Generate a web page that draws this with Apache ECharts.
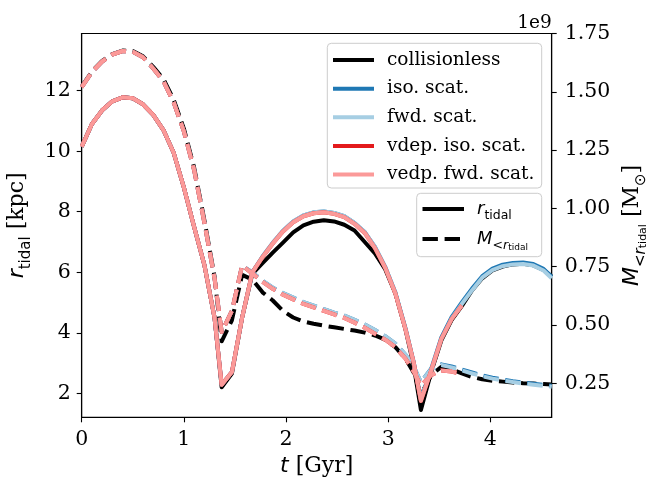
<!DOCTYPE html>
<html>
<head>
<meta charset="utf-8">
<script src="https://cdn.jsdelivr.net/npm/echarts@6/dist/echarts.min.js"></script>
<style>
  html, body { margin: 0; padding: 0; background: #ffffff; }
  #chart { width: 654px; height: 477px; }
</style>
</head>
<body>
<div id="chart"></div>
<script>
// Snapshot times [Gyr]
const T = [0, 0.1, 0.2, 0.3, 0.4, 0.5, 0.6, 0.7, 0.8, 0.9, 1.0, 1.1, 1.2, 1.3, 1.37, 1.47, 1.57, 1.67,
  1.77, 1.87, 1.97, 2.07, 2.17, 2.27, 2.37, 2.47, 2.57, 2.67, 2.77, 2.87, 2.97, 3.07, 3.17, 3.25,
  3.32, 3.42, 3.52, 3.62, 3.72, 3.82, 3.92, 4.02, 4.12, 4.22, 4.32, 4.42, 4.52, 4.6];

// Tidal radius [kpc]
const rCollisionless = [10.15, 10.9, 11.35, 11.65, 11.78, 11.75, 11.55, 11.2, 10.7, 9.95, 8.8, 7.5, 6.25, 4.5, 2.2, 2.65, 4.5, 5.95,
  6.3, 6.65, 6.98, 7.32, 7.55, 7.67, 7.72, 7.68, 7.57, 7.38, 7.0, 6.62, 6.1, 5.3, 4.1, 2.9,
  1.45, 2.7, 3.75, 4.42, 4.88, 5.4, 5.8, 6.06, 6.19, 6.26, 6.28, 6.23, 6.08, 5.86];
const rIso = [10.15, 10.9, 11.35, 11.65, 11.78, 11.75, 11.55, 11.2, 10.7, 9.95, 8.8, 7.5, 6.25, 4.5, 2.28, 2.7, 4.5, 6.0,
  6.52, 6.97, 7.37, 7.68, 7.88, 7.98, 8.01, 7.96, 7.85, 7.63, 7.33, 6.84, 6.18, 5.33, 4.13, 3.02,
  1.8, 2.8, 3.85, 4.52, 5.0, 5.46, 5.87, 6.12, 6.25, 6.31, 6.32, 6.27, 6.11, 5.85];
const rFwd = [10.15, 10.9, 11.35, 11.65, 11.78, 11.75, 11.55, 11.2, 10.7, 9.95, 8.8, 7.5, 6.25, 4.5, 2.28, 2.7, 4.5, 6.0,
  6.52, 6.97, 7.37, 7.68, 7.88, 7.98, 8.01, 7.96, 7.85, 7.63, 7.33, 6.84, 6.18, 5.33, 4.13, 3.02,
  1.8, 2.77, 3.8, 4.47, 4.95, 5.4, 5.82, 6.07, 6.2, 6.26, 6.27, 6.22, 6.06, 5.8];
const rVdepIso = [10.15, 10.9, 11.35, 11.65, 11.78, 11.75, 11.55, 11.2, 10.7, 9.95, 8.8, 7.5, 6.25, 4.5, 2.28, 2.7, 4.5, 6.0,
  6.5, 6.95, 7.35, 7.65, 7.85, 7.95, 7.98, 7.93, 7.82, 7.6, 7.3, 6.8, 6.15, 5.3, 4.1, 3.0,
  1.75, 2.75, 3.8, 4.45, 4.9];
const rVdepFwd = [10.15, 10.9, 11.35, 11.65, 11.78, 11.75, 11.55, 11.2, 10.7, 9.95, 8.8, 7.5, 6.25, 4.5, 2.28, 2.7, 4.5, 6.0,
  6.5, 6.95, 7.35, 7.65, 7.85, 7.95, 7.98, 7.93, 7.82, 7.6, 7.3, 6.8, 6.15, 5.3, 4.1, 3.0,
  1.75, 2.75, 3.8, 4.45, 4.9];

// Enclosed mass within the tidal radius [1e9 Msun]
const mCollisionless = [1.522, 1.587, 1.632, 1.662, 1.677, 1.675, 1.652, 1.607, 1.555, 1.466, 1.342, 1.176, 0.951, 0.708, 0.43, 0.52, 0.715, 0.695,
  0.64, 0.605, 0.56, 0.532, 0.515, 0.505, 0.497, 0.49, 0.483, 0.476, 0.467, 0.455, 0.437, 0.405, 0.355, 0.295,
  0.2, 0.285, 0.32, 0.31, 0.292, 0.277, 0.267, 0.261, 0.257, 0.253, 0.25, 0.249, 0.247, 0.245];
const mIso = [1.52, 1.585, 1.63, 1.66, 1.675, 1.672, 1.648, 1.6, 1.545, 1.455, 1.33, 1.165, 0.94, 0.7, 0.47, 0.56, 0.755, 0.725,
  0.69, 0.66, 0.637, 0.617, 0.598, 0.583, 0.568, 0.553, 0.54, 0.522, 0.502, 0.478, 0.452, 0.42, 0.372, 0.32,
  0.255, 0.312, 0.331, 0.322, 0.309, 0.296, 0.284, 0.274, 0.266, 0.259, 0.253, 0.248, 0.243, 0.239];
const mFwd = [1.52, 1.585, 1.63, 1.66, 1.675, 1.672, 1.648, 1.6, 1.545, 1.455, 1.33, 1.165, 0.94, 0.7, 0.47, 0.56, 0.755, 0.725,
  0.69, 0.66, 0.637, 0.617, 0.598, 0.583, 0.568, 0.553, 0.54, 0.522, 0.502, 0.478, 0.452, 0.42, 0.372, 0.32,
  0.255, 0.31, 0.328, 0.318, 0.305, 0.292, 0.28, 0.27, 0.262, 0.255, 0.249, 0.244, 0.239, 0.235];
const mVdepIso = [1.52, 1.585, 1.63, 1.66, 1.675, 1.672, 1.648, 1.6, 1.545, 1.455, 1.33, 1.165, 0.94, 0.7, 0.47, 0.56, 0.755, 0.72,
  0.685, 0.655, 0.63, 0.61, 0.59, 0.575, 0.56, 0.545, 0.53, 0.51, 0.488, 0.462, 0.437, 0.405, 0.355, 0.3,
  0.24, 0.285, 0.305, 0.3, 0.29];
const mVdepFwd = [1.52, 1.585, 1.63, 1.66, 1.675, 1.672, 1.648, 1.6, 1.545, 1.455, 1.33, 1.165, 0.94, 0.7, 0.47, 0.56, 0.755, 0.72,
  0.685, 0.655, 0.63, 0.61, 0.59, 0.575, 0.56, 0.545, 0.53, 0.51, 0.488, 0.462, 0.437, 0.405, 0.355, 0.3,
  0.24, 0.285, 0.305, 0.3, 0.29];

// Axis ticks
const tTicks = [0, 1, 2, 3, 4];
const rTicks = [2, 4, 6, 8, 10, 12];
const mTicks = [0.25, 0.5, 0.75, 1.0, 1.25, 1.5, 1.75];

const runNames = ['collisionless', 'iso. scat.', 'fwd. scat.', 'vdep. iso. scat.', 'vedp. fwd. scat.'];
const runColors = ['#000000', '#1f78b4', '#a6cee3', '#e31a1c', '#fb9a99'];
const runR = [rCollisionless, rIso, rFwd, rVdepIso, rVdepFwd];
const runM = [mCollisionless, mIso, mFwd, mVdepIso, mVdepFwd];

const SERIF = "'DejaVu Serif', serif";
const SANS = "'DejaVu Sans', sans-serif";
const LW = 4;
const DASH = [15.4, 6.7];

const pairs = vals => vals.map((v, i) => [T[i], v]);

const series = [];
runNames.forEach((name, k) => {
  series.push({
    name: name, type: 'line', yAxisIndex: 0, data: pairs(runR[k]),
    symbol: 'none', animation: false, silent: true,
    itemStyle: { color: runColors[k] },
    lineStyle: { color: runColors[k], width: LW, type: 'solid', cap: 'butt', join: 'round' }
  });
  series.push({
    name: name, type: 'line', yAxisIndex: 1, data: pairs(runM[k]),
    symbol: 'none', animation: false, silent: true,
    itemStyle: { color: runColors[k] },
    lineStyle: { color: runColors[k], width: LW, type: DASH, cap: 'butt', join: 'round' }
  });
});

const tickFont = { fontFamily: SERIF, fontSize: 20.5, color: '#000' };
const axisLine = { show: true, lineStyle: { color: '#000', width: 1.1 } };
const tickStyle = { color: '#000', width: 1.1 };

const nameRich = {
  i: { fontFamily: SANS, fontStyle: 'italic', fontSize: 22, lineHeight: 32, color: '#000' },
  n: { fontFamily: SERIF, fontSize: 22, lineHeight: 32, color: '#000' },
  s: { fontFamily: SANS, fontSize: 15, lineHeight: 18, verticalAlign: 'bottom', color: '#000' },
  si: { fontFamily: SANS, fontStyle: 'italic', fontSize: 15, lineHeight: 18, verticalAlign: 'bottom', color: '#000' },
  ss: { fontFamily: SANS, fontSize: 11, lineHeight: 9, verticalAlign: 'bottom', color: '#000' }
};

const legRich = {
  i: { fontFamily: SANS, fontStyle: 'italic', fontSize: 18, lineHeight: 26, color: '#000' },
  s: { fontFamily: SANS, fontSize: 12.5, lineHeight: 15, verticalAlign: 'bottom', color: '#000' },
  si: { fontFamily: SANS, fontStyle: 'italic', fontSize: 12.5, lineHeight: 15, verticalAlign: 'bottom', color: '#000' },
  ss: { fontFamily: SANS, fontSize: 9, lineHeight: 8, verticalAlign: 'bottom', color: '#000' }
};

const boxStyle = { fill: 'rgba(255,255,255,0.8)', stroke: '#cccccc', lineWidth: 1 };

const option = {
  animation: false,
  backgroundColor: '#ffffff',
  grid: {
    left: 81.7, right: 102.3, top: 33.5, bottom: 59.7,
    show: true, borderColor: '#000', borderWidth: 1.1, backgroundColor: 'transparent',
    containLabel: false, outerBoundsMode: 'none'
  },
  xAxis: {
    type: 'value', min: 0, max: 4.6,
    axisLine: axisLine,
    axisTick: { show: true, inside: false, length: 5, lineStyle: tickStyle, customValues: tTicks },
    axisLabel: Object.assign({ customValues: tTicks, margin: 12 }, tickFont),
    splitLine: { show: false },
    name: '{i|t}{n| [Gyr]}', nameLocation: 'middle', nameGap: 31,
    nameTextStyle: { rich: nameRich }
  },
  yAxis: [
    {
      type: 'value', position: 'left', min: 1.207, max: 13.89,
      axisLine: axisLine,
      axisTick: { show: true, inside: false, length: 5, lineStyle: tickStyle, customValues: rTicks },
      axisLabel: Object.assign({ customValues: rTicks, margin: 11 }, tickFont),
      splitLine: { show: false },
      name: '{i|r}{s|tidal}{n| [kpc]}', nameLocation: 'middle', nameRotate: 90, nameGap: 44,
      nameTextStyle: { rich: nameRich }
    },
    {
      type: 'value', position: 'right', min: 0.104, max: 1.75,
      axisLine: axisLine,
      axisTick: { show: true, inside: false, length: 5, lineStyle: tickStyle, customValues: mTicks },
      axisLabel: Object.assign({ customValues: mTicks, margin: 13, formatter: v => v.toFixed(2) }, tickFont),
      splitLine: { show: false },
      name: '{i|M}{s|<}{si|r}{ss|tidal}{n| [M}{s|\u2299}{n|]}', nameLocation: 'middle', nameRotate: 90, nameGap: 64,
      nameTextStyle: { rich: nameRich }
    }
  ],
  legend: {
    orient: 'vertical', left: 333, top: 50.5, padding: 0,
    itemGap: 9.65, itemWidth: 41, itemHeight: 4, icon: 'rect',
    itemStyle: { borderWidth: 0 },
    selectedMode: false, z: 12,
    data: runNames,
    textStyle: { fontFamily: SERIF, fontSize: 18.5, lineHeight: 18, color: '#000', padding: [0, 0, 0, 8] }
  },
  graphic: [
    { type: 'rect', z: 10, shape: { x: 327.3, y: 43.3, width: 214.4, height: 144.7, r: 4 }, style: boxStyle },
    { type: 'rect', z: 10, shape: { x: 416.7, y: 193.3, width: 125, height: 63.4, r: 4 }, style: boxStyle },
    { type: 'line', z: 11, shape: { x1: 422.5, y1: 209, x2: 464, y2: 209 }, style: { stroke: '#000', lineWidth: LW } },
    { type: 'line', z: 11, shape: { x1: 422.5, y1: 239, x2: 464, y2: 239 }, style: { stroke: '#000', lineWidth: LW, lineDash: DASH } },
    { type: 'text', z: 11, x: 477, y: 209, style: { text: '{i|r}{s|tidal}', rich: legRich, verticalAlign: 'middle' } },
    { type: 'text', z: 11, x: 477, y: 239, style: { text: '{i|M}{s|<}{si|r}{ss|tidal}', rich: legRich, verticalAlign: 'middle' } },
    { type: 'text', z: 11, x: 551.7, y: 32.5, style: { text: '1e9', fontFamily: SERIF, fontSize: 18.5, fill: '#000', align: 'right', verticalAlign: 'bottom' } }
  ],
  series: series
};

const chart = echarts.init(document.getElementById('chart'), null, { renderer: 'canvas' });
chart.setOption(option);
</script>
</body>
</html>
